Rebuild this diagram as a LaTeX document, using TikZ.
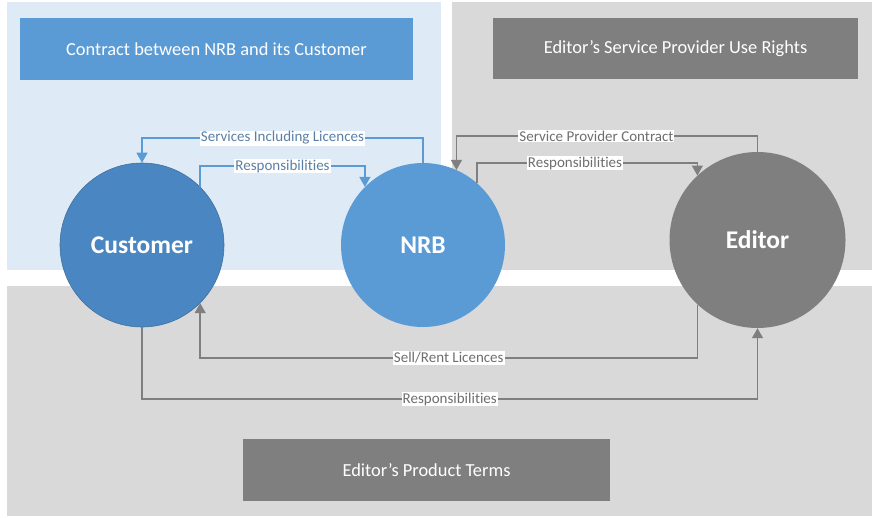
\documentclass[tikz,border=0pt]{standalone}
\usepackage{fontspec}
\setmainfont{Carlito}[Ligatures={NoCommon}]
\usetikzlibrary{arrows.meta}
\definecolor{panelblue}{HTML}{DEEBF7}
\definecolor{panelgrey}{HTML}{D9D9D9}
\definecolor{midblue}{HTML}{5B9BD5}
\definecolor{darkblue}{HTML}{4A86C1}
\definecolor{darkblueedge}{HTML}{41719C}
\definecolor{midgrey}{HTML}{7F7F7F}
\definecolor{labblue}{HTML}{5A7FA6}
\definecolor{labgrey}{HTML}{6E6E6E}
\begin{document}
\begin{tikzpicture}[x=1pt,y=-1pt,
  titlebox/.style={inner sep=0pt, text=white, font=\fontsize{18.4}{20}\selectfont},
  party/.style={circle, inner sep=0pt, text=white, font=\fontsize{25.5}{28}\selectfont\bfseries},
  conn/.style={line width=1.4pt, -{Triangle[length=10pt,width=11pt]}},
  bl/.style={draw=midblue},
  gr/.style={draw=midgrey},
  lab/.style={fill=white, inner sep=1pt, font=\fontsize{15}{16}\selectfont},
  labb/.style={lab, text=labblue},
  labg/.style={lab, text=labgrey}
]
\useasboundingbox (0,0) rectangle (872,517);
\fill[white] (0,0) rectangle (872,517);
% panels
\fill[panelblue] (7,2) rectangle (441,270);
\fill[panelgrey] (452,2) rectangle (872,270);
\fill[panelgrey] (7,286) rectangle (872,516);
% title boxes
\node[titlebox, fill=midblue, minimum width=393pt, minimum height=62pt] (t1) at (216.5,49) {Contract between NRB and its Customer};
\node[titlebox, fill=midgrey, minimum width=365pt, minimum height=61pt] (t2) at (675.5,48.5) {Editor’s Service Provider Use Rights};
\node[titlebox, fill=midgrey, minimum width=367pt, minimum height=62pt] (t3) at (426.5,470) {Editor’s Product Terms};
% parties
\node[party, fill=darkblue, draw=darkblueedge, line width=0.6pt, minimum size=164pt] (cust) at (142,245) {Customer};
\node[party, fill=midblue, minimum size=164pt] (nrb) at (423,245) {NRB};
\node[party, fill=midgrey, minimum size=176pt] (ed) at (757.5,240) {Editor};
% connectors
\draw[conn, bl] (nrb.north) -- (nrb.north |- 0,138)
   -- node[labb]{Services Including Licences} (cust.north |- 0,138) -- (cust.north);
\draw[conn, bl] (cust.45) -- (cust.45 |- 0,166)
   -- node[labb]{Responsibilities} (nrb.135 |- 0,166) -- (nrb.135);
\draw[conn, gr] (ed.north) -- (ed.north |- 0,136)
   -- node[labg, pos=0.535]{Service Provider Contract} (nrb.66 |- 0,136) -- (nrb.66);
\draw[conn, gr] (nrb.49) -- (nrb.49 |- 0,163)
   -- node[labg, pos=0.445]{Responsibilities} (ed.133 |- 0,163) -- (ed.133);
\draw[conn, gr] (ed.-133) -- (ed.-133 |- 0,358)
   -- node[labg]{Sell/Rent Licences} (cust.-45 |- 0,358) -- (cust.-45);
\draw[conn, gr] (cust.south) -- (cust.south |- 0,399)
   -- node[labg]{Responsibilities} (ed.south |- 0,399) -- (ed.south);
\end{tikzpicture}
\end{document}
